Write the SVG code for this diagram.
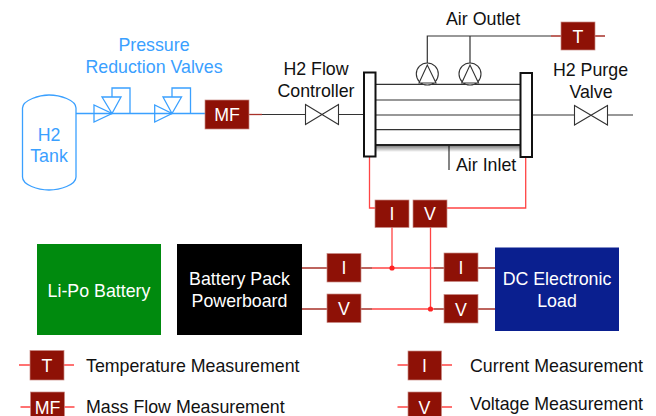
<svg xmlns="http://www.w3.org/2000/svg" width="656" height="416" viewBox="0 0 656 416">
<defs>
<linearGradient id="sh" x1="0" y1="0" x2="0" y2="1"><stop offset="0" stop-color="#000" stop-opacity=".55"/><stop offset="1" stop-color="#000" stop-opacity="0"/></linearGradient>
</defs>
<style>
text{font-family:"Liberation Sans",Arial,sans-serif;font-size:17.800px;fill:#111}
.c{text-anchor:middle}
.b{fill:#3aa0ff}
.w{fill:#fff;text-anchor:middle}
.m{fill:#8e1106;stroke:#c98a85;stroke-width:.7}
.bl{fill:none;stroke:#3aa0ff;stroke-width:1.3}
.k{fill:none;stroke:#333;stroke-width:1.2}
.kw{fill:#fff;stroke:#333;stroke-width:1.1}
.r{fill:none;stroke:#f44;stroke-width:1.3}
.d{fill:none;stroke:#a8322a;stroke-width:1.3}
.bar{fill:#fff;stroke:#111;stroke-width:2}
</style>
<g id="connectors">
<path class="bl" d="M76 113.5H205M112 97V88H130V113.5M172 97V88H190.5V113.5"/>
<path class="d" d="M249 114.500H262"/>
<path class="k" d="M262 114.500H305M339 114.500H363.700M532 115H574M608 115H633"/>
<path class="k" d="M427.300 63V36H551M470 63V36"/>
<path class="d" d="M551 36H561M595 36H605"/>
<path class="k" d="M449 145V170"/>
<path class="r" d="M369.500 157V208H375M447 208H525.700V157M392 227V268M430.500 227V309"/>
<path class="d" d="M302 268H327M302 309H327M361 268H372M361 309H372M434 268H444M434 309H444M478 268H495M478 309H495"/>
<path class="r" d="M372 268H434M372 309H434"/>
<circle cx="392" cy="268" r="2.600" fill="#f22"/>
<circle cx="430.500" cy="309" r="2.600" fill="#f22"/>
<path class="r" d="M19 365H74M397.500 365H452M20.500 407H74.500M397.500 407H452"/>
</g>
<g id="h2-tank">
<path class="bl" d="M22.500 108C22.500 100 40 95 49 95C60 95 76 100 76 108V177C76 185 60 190 49 190C38 190 22.500 185 22.500 177Z"/>
<text class="b c" x="49" y="141">H2</text><text class="b c" x="49" y="162">Tank</text>
</g>
<g id="pressure-valves">
<path class="bl" d="M94 105V122L112 113.500ZM102 97H121L112 113.500Z"/>
<path class="bl" d="M154.700 105V122L172 113.500ZM163 97H181.500L172 113.500Z"/>
<text class="b c" x="154" y="51">Pressure</text><text class="b c" x="154" y="73">Reduction Valves</text>
</g>
<g id="mf"><rect class="m" x="205" y="100" width="44" height="29"/><text class="w" x="227" y="121">MF</text></g>
<g id="h2-flow-controller">
<path class="kw" d="M305.500 104.500V124.500L338.500 104.500V124.500Z"/>
<text class="c" x="316" y="75">H2 Flow</text><text class="c" x="316" y="97">Controller</text>
</g>
<g id="fuel-cell">
<rect x="376" y="145" width="144" height="7" fill="url(#sh)"/>
<path class="k" d="M376 84.300H520M376 100H520M376 115H520M376 129.700H520"/>
<path d="M376 145H520" fill="none" stroke="#222" stroke-width="1.800"/>
<rect class="bar" x="364" y="72.500" width="11.500" height="84"/>
<rect class="bar" x="520.500" y="73" width="11.500" height="84"/>
</g>
<g id="pump-1"><circle class="kw" cx="427.300" cy="74" r="11"/><path class="kw" d="M419 83H436L427.300 65Z"/></g>
<g id="pump-2"><circle class="kw" cx="470" cy="74" r="11"/><path class="kw" d="M461.700 83H478.500L470 65Z"/></g>
<g id="air-labels"><text x="446" y="25">Air Outlet</text><text x="456" y="171">Air Inlet</text></g>
<g id="t"><rect class="m" x="561" y="22" width="34" height="28"/><text class="w" x="578" y="42.500">T</text></g>
<g id="h2-purge-valve">
<path class="kw" d="M574.500 105.500V125L607.500 105.500V125Z"/>
<text class="c" x="590.500" y="76">H2 Purge</text><text class="c" x="591" y="98">Valve</text>
</g>
<g id="i-top"><rect class="m" x="375" y="200" width="34" height="27.500"/><text class="w" x="392" y="220">I</text></g>
<g id="v-top"><rect class="m" x="413" y="200" width="34" height="27.500"/><text class="w" x="430" y="220">V</text></g>
<g id="li-po"><rect x="37" y="244" width="124" height="91" fill="#008a0e"/><text class="w" x="99" y="297">Li-Po Battery</text></g>
<g id="powerboard"><rect x="177" y="244" width="125" height="91" fill="#000"/><text class="w" x="239.500" y="285">Battery Pack</text><text class="w" x="239.500" y="307">Powerboard</text></g>
<g id="i-left"><rect class="m" x="327" y="253.500" width="34" height="28.500"/><text class="w" x="344" y="274">I</text></g>
<g id="v-left"><rect class="m" x="327" y="294" width="34" height="28.500"/><text class="w" x="344" y="315">V</text></g>
<g id="i-right"><rect class="m" x="444" y="253" width="34" height="28.500"/><text class="w" x="461" y="274">I</text></g>
<g id="v-right"><rect class="m" x="444" y="294.500" width="34" height="28.500"/><text class="w" x="461" y="316">V</text></g>
<g id="dc-load"><rect x="495" y="247.500" width="124" height="83.500" fill="#0a1f8f"/><text class="w" x="557" y="285">DC Electronic</text><text class="w" x="557" y="307">Load</text></g>
<g id="legend-t"><rect class="m" x="30" y="350.500" width="34" height="29.500"/><text class="w" x="47" y="372">T</text><text x="86" y="372">Temperature Measurement</text></g>
<g id="legend-mf"><rect class="m" x="30.500" y="392" width="34" height="26"/><text class="w" x="47.500" y="413.500">MF</text><text x="86" y="413">Mass Flow Measurement</text></g>
<g id="legend-i"><rect class="m" x="408" y="351" width="33.500" height="29"/><text class="w" x="424.500" y="372">I</text><text x="470" y="372">Current Measurement</text></g>
<g id="legend-v"><rect class="m" x="408" y="392" width="33.500" height="26"/><text class="w" x="424.500" y="413.500">V</text><text x="470" y="410">Voltage Measurement</text></g>
</svg>
